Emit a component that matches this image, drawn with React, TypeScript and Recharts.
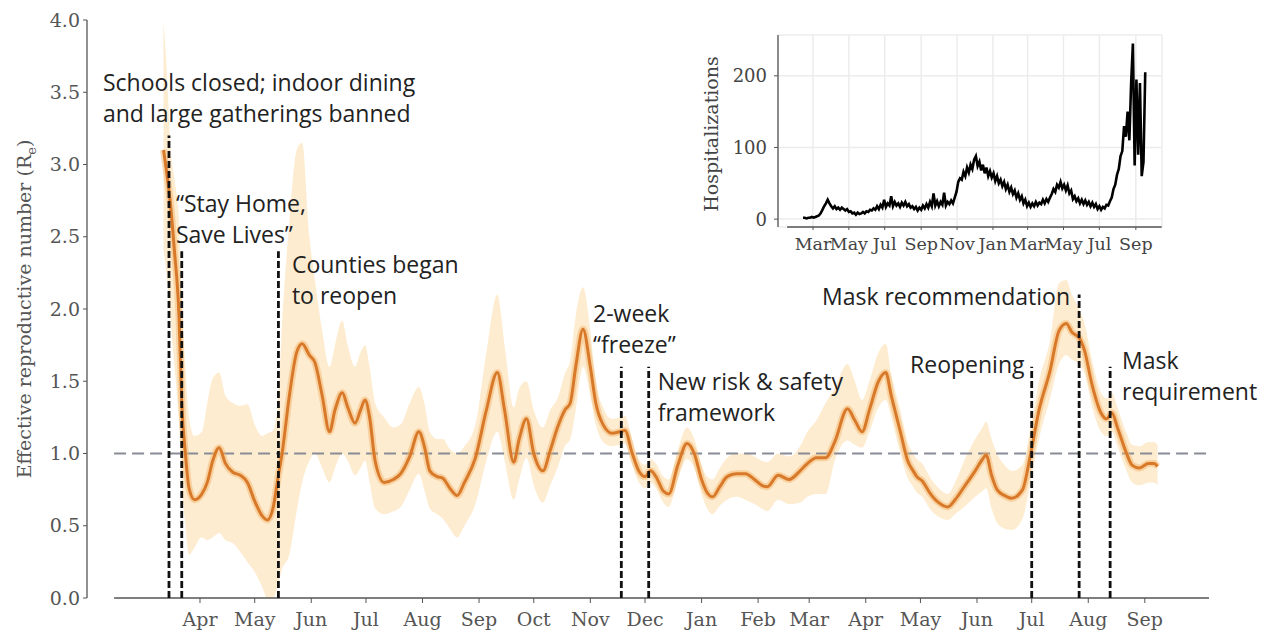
import React from 'react';
import {
  ComposedChart,
  LineChart,
  Line,
  Area,
  XAxis,
  YAxis,
  ReferenceLine,
  ReferenceDot,
  CartesianGrid,
} from 'recharts';

// ---------- Main chart: effective reproductive number (x = days since 1 Apr 2020) ----------
const rtDays = [
  -20, -18, -16, -14, -11.5, -10, -8, -6, -3, 1,
  4, 7, 10.5, 14, 18, 22, 26, 30, 34, 37,
  40, 43, 45, 49, 53, 56, 60, 63, 67, 71,
  74, 78, 81, 85, 88, 90.5, 93, 96, 101, 106,
  110, 115, 120, 123, 126, 130, 133, 137, 141, 145,
  151, 157, 163, 167, 172, 175, 179, 183, 188, 192,
  196, 200, 203, 206, 210, 214, 217, 221, 226, 230,
  233, 237, 241, 244, 247, 250, 254, 257, 262, 267,
  271, 275, 278, 281, 285, 289, 294, 299, 304, 308,
  311, 317, 323, 329, 333, 338, 343, 348, 355, 359,
  363, 367, 372, 376, 379, 384, 388, 391, 393, 396,
  400, 405, 410, 414, 419, 425, 429, 431, 434, 437,
  441, 445, 451, 455, 460, 466, 471, 475, 478, 482,
  485, 489, 494, 497, 500, 503, 508, 511, 515, 520,
  523, 525,
];
const rtMid = [
  3.1, 2.92, 2.7, 2.4, 1.95, 1.35, 1.0, 0.76, 0.68, 0.72,
  0.8, 0.95, 1.04, 0.93, 0.87, 0.85, 0.8, 0.67, 0.57, 0.54,
  0.62, 0.85, 1.0, 1.4, 1.7, 1.76, 1.68, 1.63, 1.4, 1.15,
  1.3, 1.42, 1.32, 1.21, 1.3, 1.37, 1.25, 0.95, 0.8, 0.82,
  0.86, 0.98, 1.15, 1.05, 0.88, 0.84, 0.83, 0.76, 0.71, 0.8,
  0.97, 1.3, 1.56, 1.3, 0.94, 1.1, 1.24, 1.0, 0.88, 1.02,
  1.18, 1.3, 1.35, 1.6, 1.86, 1.6, 1.35, 1.2, 1.14, 1.15,
  1.16, 1.0, 0.87, 0.84, 0.88, 0.84, 0.74, 0.72, 0.92, 1.07,
  1.0, 0.82, 0.73, 0.7, 0.77, 0.84, 0.86, 0.86, 0.82, 0.78,
  0.77, 0.85, 0.82, 0.88, 0.93, 0.97, 0.97, 1.08, 1.31, 1.23,
  1.15, 1.3, 1.5, 1.56, 1.4, 1.15, 0.95, 0.88, 0.84, 0.81,
  0.73, 0.66, 0.63, 0.68, 0.77, 0.88, 0.96, 0.99, 0.85, 0.75,
  0.71, 0.69, 0.75, 0.97, 1.3, 1.57, 1.85, 1.9, 1.84, 1.8,
  1.71, 1.48, 1.28, 1.24, 1.28, 1.18, 1.0, 0.92, 0.9, 0.93,
  0.93, 0.91,
];
const rtLo = [
  2.4, 2.2, 1.9, 1.6, 1.2, 0.8, 0.5, 0.3, 0.35, 0.42,
  0.4, 0.42, 0.45, 0.4, 0.38, 0.32, 0.25, 0.18, 0.08, 0.0,
  0.0, 0.1, 0.2, 0.3, 0.6, 0.8, 0.95, 1.0, 0.9, 0.8,
  0.9, 1.0, 0.95, 0.85, 0.9, 0.95, 0.8, 0.62, 0.58, 0.6,
  0.63, 0.75, 0.86, 0.75, 0.62, 0.58, 0.55, 0.48, 0.42, 0.5,
  0.65, 0.95, 1.15, 0.95, 0.68, 0.82, 0.97, 0.78, 0.66, 0.78,
  0.9, 1.05, 1.1, 1.3, 1.6, 1.4, 1.2, 1.08, 1.05, 1.06,
  1.07, 0.92, 0.79, 0.76, 0.8, 0.76, 0.66, 0.63, 0.82, 0.96,
  0.9, 0.72, 0.62, 0.58, 0.64, 0.68, 0.7, 0.68, 0.65, 0.62,
  0.6, 0.68, 0.65, 0.66, 0.7, 0.72, 0.72, 0.95, 1.09, 1.06,
  1.04, 1.15, 1.32, 1.37, 1.25, 1.0, 0.83, 0.77, 0.73, 0.7,
  0.62, 0.56, 0.54, 0.58, 0.63, 0.7, 0.74, 0.76, 0.62, 0.52,
  0.48, 0.47, 0.55, 0.78, 1.1, 1.38, 1.62, 1.68, 1.65, 1.62,
  1.55, 1.33, 1.15, 1.12, 1.15, 1.05, 0.88, 0.8, 0.78, 0.8,
  0.8, 0.78,
];
const rtHi = [
  4.0, 3.6, 3.1, 2.9, 2.6, 2.1, 1.6, 1.25, 1.12, 1.15,
  1.35, 1.52, 1.56, 1.4, 1.35, 1.33, 1.34, 1.2, 1.12, 1.14,
  1.16, 1.4, 1.9, 2.6, 3.1, 3.15, 2.5, 2.2, 1.85, 1.6,
  1.75, 1.92, 1.75, 1.6, 1.7, 1.75, 1.6, 1.35, 1.25, 1.18,
  1.2, 1.35, 1.46, 1.35, 1.15, 1.1, 1.1, 1.03, 1.0, 1.05,
  1.2, 1.7, 2.1, 1.75, 1.32, 1.45, 1.5, 1.3, 1.18, 1.3,
  1.38, 1.55, 1.65, 1.95, 2.15, 1.85, 1.5, 1.32, 1.24, 1.25,
  1.26, 1.09, 0.95, 0.92, 0.96, 0.93, 0.84, 0.82, 1.03, 1.18,
  1.1, 0.92, 0.84, 0.82, 0.9, 0.97, 1.0, 1.0, 0.98, 0.95,
  0.94, 1.0, 0.98, 1.05, 1.15, 1.23, 1.35, 1.45, 1.62, 1.5,
  1.37, 1.5, 1.7, 1.76, 1.55, 1.3, 1.08, 1.0, 0.96, 0.93,
  0.84, 0.76, 0.72, 0.8, 0.95, 1.1, 1.18, 1.22, 1.1, 1.0,
  0.92, 0.88, 0.92, 1.15, 1.5, 1.78, 2.18, 2.2, 2.1, 2.0,
  1.9, 1.65, 1.42, 1.38, 1.42, 1.32, 1.14, 1.06, 1.05, 1.08,
  1.08, 1.06,
];

const monthTickDays = [0, 30, 61, 91, 122, 153, 183, 214, 244, 275, 306, 334, 365, 395, 426, 456, 487, 518];
const monthTickLabels = ['Apr', 'May', 'Jun', 'Jul', 'Aug', 'Sep', 'Oct', 'Nov', 'Dec', 'Jan', 'Feb', 'Mar', 'Apr', 'May', 'Jun', 'Jul', 'Aug', 'Sep'];
const rtTicks = [0, 0.5, 1, 1.5, 2, 2.5, 3, 3.5, 4];

// policy events (day since 1 Apr 2020) and height of their marker line
const eventDays = [-17, -10, 43, 231, 246, 456, 482, 499];
const eventTops = [3.2, 2.4, 2.4, 1.6, 1.6, 1.6, 2.1, 1.6];
const eventTexts = [
  ['Schools closed; indoor dining', 'and large gatherings banned'],
  ['\u201cStay Home,', 'Save Lives\u201d'],
  ['Counties began', 'to reopen'],
  ['2-week', '\u201cfreeze\u201d'],
  ['New risk & safety', 'framework'],
  ['Reopening'],
  ['Mask recommendation'],
  ['Mask', 'requirement'],
];
// where each annotation's first text line starts (data units)
const labelDays = [-53.2, -13.2, 50.4, 215.5, 251, 389.3, 341, 505.5];
const labelValues = [3.51, 2.67, 2.25, 1.91, 1.44, 1.557, 2.03, 1.585];

const threshold = 1;
const axisStartDay = -47.1;
const axisEndDay = 553.2;

// ---------- Inset: hospitalizations (x = days since 1 Mar 2020, one value every 3 days) ----------
const hospStartDay = -17;
const hospStepDays = 3;
const hospValues = [
  2, 2, 1, 2, 2, 3, 2, 3, 4, 5,
  8, 13, 18, 22, 27, 22, 18, 15, 18, 14,
  16, 13, 16, 14, 12, 14, 10, 11, 8, 9,
  6, 9, 7, 8, 10, 8, 11, 10, 13, 12,
  15, 13, 18, 14, 20, 16, 27, 17, 22, 19,
  32, 18, 24, 19, 22, 17, 23, 19, 24, 18,
  21, 16, 18, 14, 17, 12, 16, 13, 19, 15,
  21, 16, 24, 18, 36, 19, 25, 18, 24, 20,
  37, 19, 24, 21, 26, 22, 30, 38, 52, 57,
  55, 66, 60, 72, 65, 76, 70, 83, 88, 74,
  80, 68, 76, 64, 72, 60, 67, 58, 64, 53,
  60, 50, 55, 46, 52, 42, 48, 38, 44, 35,
  40, 30, 36, 27, 32, 22, 27, 18, 23, 17,
  22, 18, 24, 19, 23, 21, 27, 22, 28, 24,
  30, 35, 42, 38, 48, 44, 52, 43, 48, 40,
  47, 36, 40, 28, 32, 25, 29, 22, 27, 21,
  26, 20, 24, 18, 23, 17, 21, 14, 18, 13,
  17, 15, 20, 19, 25, 30, 42, 48, 62, 70,
  88, 95, 130, 115, 150, 110, 190, 245, 75, 195,
  90, 190, 60, 80, 205,
];
const hospTickDays = [0, 61, 122, 184, 245, 306, 365, 426, 487, 549];
const hospTickLabels = ['Mar', 'May', 'Jul', 'Sep', 'Nov', 'Jan', 'Mar', 'May', 'Jul', 'Sep'];
const hospYTicks = [0, 100, 200];
const hospAxisStart = -44;
const hospAxisEnd = 593;

// ---------- tables built from the arrays ----------
const rtData = rtDays.map((d, i) => ({ d, mid: rtMid[i], band: [rtLo[i], rtHi[i]] }));
const hospData = hospValues.map((v, i) => ({ d: hospStartDay + i * hospStepDays, v }));

const SERIF = "'DejaVu Serif', 'Liberation Serif', serif";
const SANS = "'Open Sans', 'Noto Sans', sans-serif";
const AXIS_GREY = '#555';

const AnnotationText = ({ cx, cy, lines }: { cx: number; cy: number; lines: string[] }) => (
  <text x={cx} y={cy} fontFamily={SANS} fontSize={23} fill="#222">
    {lines.map((t, i) => (
      <tspan key={i} x={cx} dy={i === 0 ? 0 : 31}>
        {t}
      </tspan>
    ))}
  </text>
);

const MainYTitle = () => (
  <text
    transform="translate(24,309) rotate(-90)"
    textAnchor="middle"
    dominantBaseline="central"
    fontFamily={SERIF}
    fontSize={19}
    fill={AXIS_GREY}
  >
    Effective reproductive number (R
    <tspan baselineShift="sub" fontSize={13}>
      e
    </tspan>
    )
  </text>
);

const InsetYTitle = () => (
  <text
    transform="translate(11,114) rotate(-90)"
    textAnchor="middle"
    dominantBaseline="central"
    fontFamily={SERIF}
    fontSize={19}
    fill="#444"
  >
    Hospitalizations
  </text>
);

export default function App() {
  return (
    <div style={{ position: 'absolute', left: 0, top: 0, width: 1270, height: 634, background: '#fff' }}>
      <ComposedChart
        width={1270}
        height={634}
        data={rtData}
        margin={{ top: 20, right: 61, bottom: 0, left: 0 }}
      >
        <XAxis
          type="number"
          dataKey="d"
          domain={[-61.95, 553.2]}
          ticks={monthTickDays}
          interval={0}
          allowDataOverflow
          tickFormatter={(v: number) => monthTickLabels[monthTickDays.indexOf(v)]}
          axisLine={false}
          tickLine={{ stroke: AXIS_GREY }}
          tickSize={5}
          tickMargin={10}
          height={36}
          tick={{ fontFamily: SERIF, fontSize: 19, fill: AXIS_GREY }}
        />
        <YAxis
          type="number"
          domain={[0, 4]}
          ticks={rtTicks}
          interval={0}
          allowDataOverflow
          tickFormatter={(v: number) => v.toFixed(1)}
          width={87}
          axisLine={{ stroke: AXIS_GREY, strokeWidth: 1.3 }}
          tickLine={{ stroke: AXIS_GREY }}
          tickSize={4}
          tickMargin={3}
          tick={{ fontFamily: SERIF, fontSize: 19, fill: AXIS_GREY }}
          label={<MainYTitle />}
        />
        <Area
          type="monotone"
          dataKey="band"
          stroke="none"
          fill="#fbe0b0"
          fillOpacity={0.6}
          isAnimationActive={false}
          dot={false}
          activeDot={false}
        />
        <ReferenceLine
          segment={[{ x: axisStartDay, y: 0 }, { x: axisEndDay, y: 0 }]}
          stroke={AXIS_GREY}
          strokeWidth={1.5}
        />
        <ReferenceLine
          segment={[{ x: axisStartDay, y: threshold }, { x: axisEndDay, y: threshold }]}
          stroke="#878c96"
          strokeWidth={2}
          strokeDasharray="12 6"
        />
        <Line
          type="monotone"
          dataKey="mid"
          stroke="#f3b56e"
          strokeWidth={7}
          strokeOpacity={0.5}
          dot={false}
          activeDot={false}
          isAnimationActive={false}
        />
        <Line
          type="monotone"
          dataKey="mid"
          stroke="#d8792a"
          strokeWidth={3}
          dot={false}
          activeDot={false}
          isAnimationActive={false}
        />
        {eventDays.map((d, i) => (
          <ReferenceLine
            key={`ev-${i}`}
            segment={[{ x: d, y: 0 }, { x: d, y: eventTops[i] }]}
            stroke="#111"
            strokeWidth={2.8}
            strokeDasharray="7 3"
          />
        ))}
        {eventTexts.map((lines, i) => (
          <ReferenceDot
            key={`lbl-${i}`}
            x={labelDays[i]}
            y={labelValues[i]}
            r={0}
            shape={(p: any) => <AnnotationText cx={p.cx} cy={p.cy} lines={lines} />}
          />
        ))}
      </ComposedChart>

      <div style={{ position: 'absolute', left: 700, top: 20, width: 480, height: 250 }}>
        <LineChart
          width={480}
          height={250}
          data={hospData}
          margin={{ top: 15, right: 18, bottom: 0, left: 0 }}
        >
          <CartesianGrid stroke="#ececec" strokeWidth={1.5} />
          <XAxis
            type="number"
            dataKey="d"
            domain={[-59.5, 593.5]}
            ticks={hospTickDays}
            interval={0}
            allowDataOverflow
            tickFormatter={(v: number) => hospTickLabels[hospTickDays.indexOf(v)]}
            axisLine={false}
            tickLine={{ stroke: AXIS_GREY }}
            tickSize={3}
            tickMargin={8}
            height={43}
            tick={{ fontFamily: SERIF, fontSize: 17.5, fill: '#444' }}
          />
          <YAxis
            type="number"
            domain={[-11, 257]}
            ticks={hospYTicks}
            interval={0}
            allowDataOverflow
            width={78}
            axisLine={{ stroke: AXIS_GREY, strokeWidth: 1.3 }}
            tickLine={{ stroke: AXIS_GREY }}
            tickSize={4}
            tickMargin={7}
            tick={{ fontFamily: SERIF, fontSize: 18, fill: '#444' }}
            label={<InsetYTitle />}
          />
          <ReferenceLine
            segment={[{ x: hospAxisStart, y: -11 }, { x: hospAxisEnd, y: -11 }]}
            stroke={AXIS_GREY}
            strokeWidth={1.5}
            ifOverflow="visible"
          />
          <Line
            type="linear"
            dataKey="v"
            stroke="#000"
            strokeWidth={2.6}
            dot={false}
            activeDot={false}
            isAnimationActive={false}
          />
        </LineChart>
      </div>
    </div>
  );
}
